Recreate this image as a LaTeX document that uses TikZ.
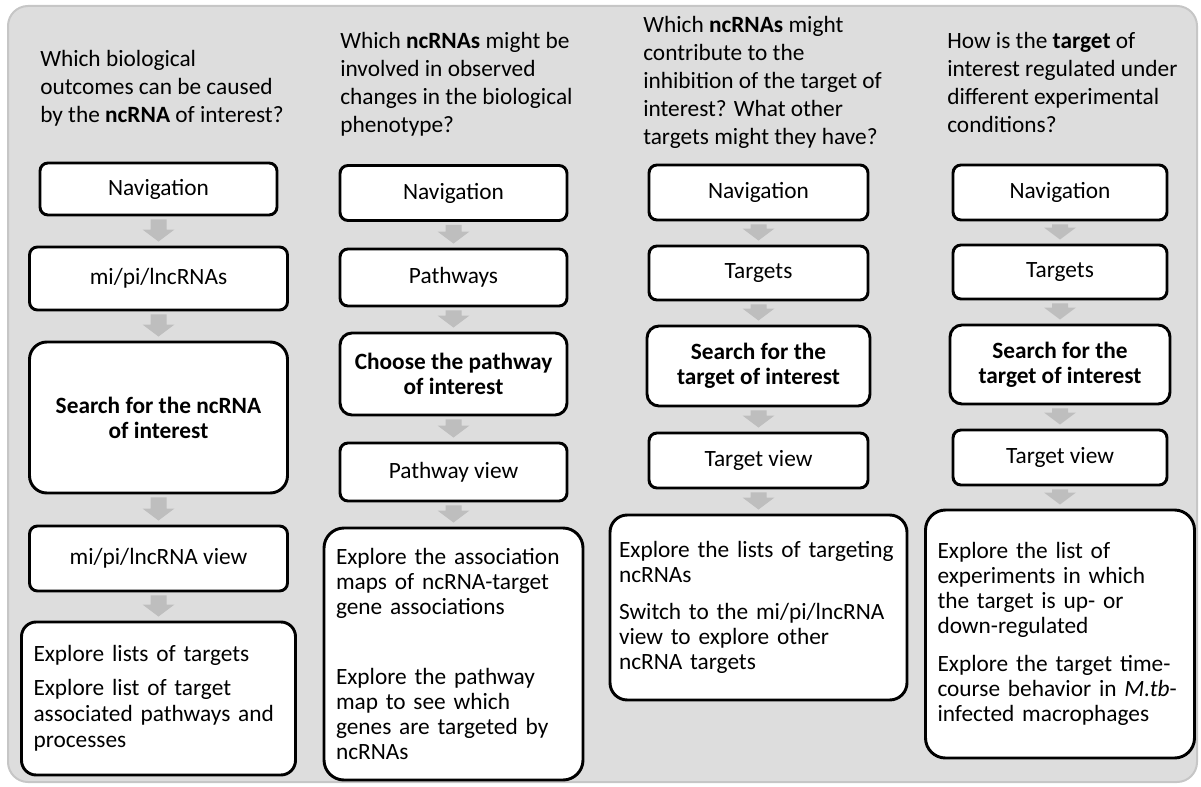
\documentclass[tikz,border=0pt]{standalone}
\usepackage{fontspec}
\setmainfont{Carlito}
\usetikzlibrary{calc,positioning}
\definecolor{PanelGray}{RGB}{221,221,221}
\definecolor{PanelEdge}{RGB}{198,198,198}
\definecolor{ArrowGray}{RGB}{190,190,190}

% block arrow between two stacked boxes
\newcommand{\flowarrow}[2]{%
  \fill[ArrowGray] ($(#1.south)+(-8,3)$) -- ($(#1.south)+(8,3)$)
    -- ($(#2.north)+(8,-16)$) -- ($(#2.north)+(16,-16)$)
    -- ($(#2.north)+(0,-4)$) -- ($(#2.north)+(-16,-16)$)
    -- ($(#2.north)+(-8,-16)$) -- cycle;}

\begin{document}
\begin{tikzpicture}[x=0.75pt, y=-0.75pt,
    question/.style={anchor=base west, align=left, inner sep=0pt,
      font=\fontsize{17.5}{21}\selectfont},
    stepbox/.style 2 args={draw, line width=2.2pt, fill=white, rounded corners=6pt,
      align=center, inner sep=0pt, minimum width=#1*0.75pt, minimum height=#2*0.75pt,
      font=\fontsize{17.5}{18.75}\selectfont},
    searchbox/.style 2 args={stepbox={#1}{#2}, rounded corners=9pt,
      font=\fontsize{17.5}{18.75}\selectfont\bfseries},
    resultbox/.style 2 args={draw, line width=2.2pt, fill=white, rounded corners=15pt,
      align=left, inner xsep=9pt, inner ysep=0pt, text width=#1,
      minimum height=#2, font=\fontsize{17.5}{18.75}\selectfont}]
  \useasboundingbox (0,0) rectangle (1201,787);
  % panel
  \draw[PanelEdge, fill=PanelGray, line width=1.5pt, rounded corners=15pt] (8,6) rectangle (1197,782);

  % questions (placed by the baseline of their last line)
  \node[question] (q1) at (40,123) {Which biological\\outcomes can be caused\\by the \textbf{ncRNA} of interest?};
  \node[question] (q2) at (340,133) {Which \textbf{ncRNAs} might be\\involved in observed\\changes in the biological\\phenotype?};
  \node[question] (q3) at (643,145) {Which \textbf{ncRNAs} might\\contribute to the\\inhibition of the target of\\interest? What other\\targets might they have?};
  \node[question] (q4) at (947,133) {How is the \textbf{target} of\\interest regulated under\\different experimental\\conditions?};

  % column 1
  \node[stepbox={237}{52}] (nav1) at (158.5,189) {Navigation};
  \node[stepbox={258}{63}] (list1) at (158.5,278.5) {mi/pi/lncRNAs};
  \node[searchbox={258}{151}, rounded corners=13pt] (search1) at (158.5,417.5) {Search for the ncRNA\\of interest};
  \node[stepbox={258}{65}] (view1) at (158.5,558.5) {mi/pi/lncRNA view};
  \node[resultbox={187.5pt}{114.75pt}, rounded corners=11pt,
        font=\fontsize{17.5}{19.5}\selectfont] (res1) at (158.5,698.5)
    {Explore lists of targets\\[6pt]Explore list of target\\associated pathways and\\processes};

  % column 2
  \node[stepbox={227}{55}] (nav2) at (453.5,193) {Navigation};
  \node[stepbox={227}{57}] (path2) at (453.5,277.5) {Pathways};
  \node[searchbox={227}{82}] (choose2) at (453.5,374) {Choose the pathway\\of interest};
  \node[stepbox={227}{58}] (pview2) at (453.5,472) {Pathway view};
  \node[resultbox={176.25pt}{189pt}] (res2) at (453.5,654)
    {Explore the association\\maps of ncRNA-target\\gene associations\\[33.75pt]Explore the pathway\\map to see which\\genes are targeted by\\ncRNAs};

  % column 3
  \node[stepbox={219}{55}] (nav3) at (758.5,192.5) {Navigation};
  \node[stepbox={219}{54}] (targ3) at (758.5,273) {Targets};
  \node[searchbox={223}{80}] (search3) at (758.5,366) {Search for the\\target of interest};
  \node[stepbox={219}{55}] (tview3) at (758.5,460.5) {Target view};
  \node[resultbox={209.25pt}{138.75pt}, inner xsep=6.75pt, rounded corners=13pt] (res3) at (758.5,607.5)
    {Explore the lists of targeting\\ncRNAs\\[9pt]Switch to the mi/pi/lncRNA\\view to explore other\\ncRNA targets};

  % column 4
  \node[stepbox={214}{55}] (nav4) at (1060,192.5) {Navigation};
  \node[stepbox={214}{54}] (targ4) at (1060,272) {Targets};
  \node[searchbox={220}{79}] (search4) at (1060,364.5) {Search for the\\target of interest};
  \node[stepbox={214}{55}] (tview4) at (1060,457.5) {Target view};
  \node[resultbox={183.75pt}{186pt}] (res4) at (1060,634)
    {Explore the list of\\experiments in which\\the target is up- or\\down-regulated\\[9.75pt]Explore the target time-\\course behavior in \textit{M.tb}-\\infected macrophages};

  % arrows
  \foreach \a/\b in {nav1/list1, list1/search1, search1/view1, view1/res1,
                     nav2/path2, path2/choose2, choose2/pview2, pview2/res2,
                     nav3/targ3, targ3/search3, search3/tview3, tview3/res3,
                     nav4/targ4, targ4/search4, search4/tview4, tview4/res4}
    \flowarrow{\a}{\b};
\end{tikzpicture}
\end{document}
